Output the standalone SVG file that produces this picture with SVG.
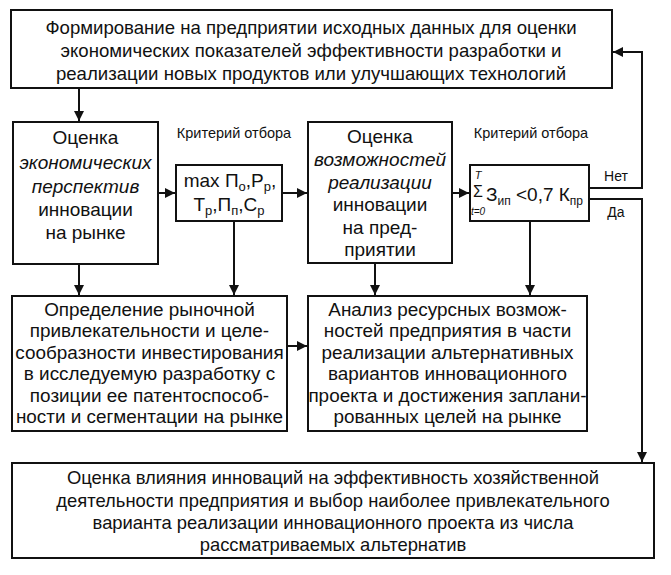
<svg xmlns="http://www.w3.org/2000/svg" width="671" height="575" viewBox="0 0 671 575">
<defs>
<marker id="ah" viewBox="0 0 10 10" refX="10" refY="5" markerWidth="10" markerHeight="10" markerUnits="userSpaceOnUse" orient="auto">
<path d="M0,0 L10,5 L0,10 z" fill="#111"/>
</marker>
<style>
.box{fill:#fff;stroke:#111;stroke-width:2}
.t{font-family:"Liberation Sans",Arial,sans-serif;font-size:18.6px;fill:#111;text-anchor:middle}
.m{font-size:18.9px}
.w{font-size:18.4px}
.b{font-size:19px}
.i{font-style:italic}
.s{font-size:14.5px}
.c{stroke:#111;stroke-width:2;fill:none}
.ca{stroke:#111;stroke-width:2;fill:none;marker-end:url(#ah)}
</style>
</defs>
<rect width="671" height="575" fill="#fff"/>
<g id="connectors">
<line class="ca" x1="79" y1="88" x2="79" y2="121"/>
<line class="ca" x1="158" y1="193" x2="175" y2="193"/>
<line class="ca" x1="282" y1="193" x2="307" y2="193"/>
<line class="ca" x1="452" y1="193" x2="469" y2="193"/>
<line class="ca" x1="79" y1="264" x2="79" y2="295"/>
<line class="ca" x1="234" y1="221" x2="234" y2="295"/>
<line class="ca" x1="375" y1="263" x2="375" y2="295"/>
<line class="ca" x1="530" y1="221" x2="530" y2="295"/>
<line class="ca" x1="287" y1="346" x2="307" y2="346"/>
<polyline class="ca" points="589,188 642,188 642,52 613,52"/>
<polyline class="ca" points="589,199 642,199 642,462"/>
<text class="t" x="616" y="181" style="font-size:14px">Нет</text>
<text class="t" x="616" y="217" style="font-size:14px">Да</text>
</g>
<g id="n1">
<rect class="box" x="11" y="10" width="601" height="78"/>
<text class="t" x="311" y="34">Формирование на предприятии исходных данных для оценки</text>
<text class="t" x="311" y="57">экономических показателей эффективности разработки и</text>
<text class="t" x="311" y="80">реализации новых продуктов или улучшающих технологий</text>
</g>
<g id="n2">
<rect class="box" x="13" y="122" width="145" height="142"/>
<text class="t b" x="85.5" y="144">Оценка</text>
<text class="t b i" x="85.5" y="169">экономических</text>
<text class="t b i" x="85.5" y="193">перспектив</text>
<text class="t b" x="85.5" y="216">инновации</text>
<text class="t b" x="85.5" y="239">на рынке</text>
</g>
<text class="t s" x="234" y="138">Критерий отбора</text>
<g id="n3">
<rect class="box" x="176" y="165" width="106" height="56"/>
<text class="t b" x="230" y="187">max П<tspan font-size="13" dy="4">о</tspan><tspan dy="-4">,Р</tspan><tspan font-size="13" dy="4">р</tspan><tspan dy="-4">,</tspan></text>
<text class="t b" x="229" y="211">Т<tspan font-size="13" dy="4">р</tspan><tspan dy="-4">,П</tspan><tspan font-size="13" dy="4">п</tspan><tspan dy="-4">,С</tspan><tspan font-size="13" dy="4">р</tspan></text>
</g>
<g id="n4">
<rect class="box" x="308" y="122" width="144" height="141"/>
<text class="t b" x="380" y="143">Оценка</text>
<text class="t b i" x="380" y="166">возможностей</text>
<text class="t b i" x="380" y="189">реализации</text>
<text class="t b" x="380" y="211">инновации</text>
<text class="t b" x="380" y="234">на пред-</text>
<text class="t b" x="380" y="256">приятии</text>
</g>
<text class="t s" x="531" y="138">Критерий отбора</text>
<g id="n5">
<rect class="box" x="470" y="165" width="119" height="56"/>
<text class="t i" x="478" y="179" style="font-size:11px">T</text>
<text class="t" x="478" y="197" style="font-size:16px">Σ</text>
<text class="t i" x="478" y="215" style="font-size:10px">t=0</text>
<text class="t" x="486" y="201" style="text-anchor:start;font-size:19px">З<tspan font-size="12" dy="4">ип</tspan><tspan dy="-4"> &lt;0,7 К</tspan><tspan font-size="12" dy="4">пр</tspan></text>
</g>
<g id="n6">
<rect class="box" x="12" y="296" width="275" height="135"/>
<text class="t m" x="149.5" y="316">Определение рыночной</text>
<text class="t m" x="149.5" y="337">привлекательности и целе-</text>
<text class="t m" x="149.5" y="359">сообразности инвестирования</text>
<text class="t m" x="149.5" y="380">в исследуемую разработку с</text>
<text class="t m" x="149.5" y="402">позиции ее патентоспособ-</text>
<text class="t m" x="149.5" y="423">ности и сегментации на рынке</text>
</g>
<g id="n7">
<rect class="box" x="308" y="296" width="279" height="135"/>
<text class="t m" x="447.5" y="316">Анализ ресурсных возмож-</text>
<text class="t m" x="447.5" y="337">ностей предприятия в части</text>
<text class="t m" x="447.5" y="359">реализации альтернативных</text>
<text class="t m" x="447.5" y="380">вариантов инновационного</text>
<text class="t m" x="447.5" y="402">проекта и достижения заплани-</text>
<text class="t m" x="447.5" y="423">рованных целей на рынке</text>
</g>
<g id="n8">
<rect class="box" x="12" y="463" width="642" height="95"/>
<text class="t w" x="333" y="484">Оценка влияния инноваций на эффективность хозяйственной</text>
<text class="t w" x="333" y="507">деятельности предприятия и выбор наиболее привлекательного</text>
<text class="t w" x="333" y="529">варианта реализации инновационного проекта из числа</text>
<text class="t w" x="333" y="551">рассматриваемых альтернатив</text>
</g>
</svg>
